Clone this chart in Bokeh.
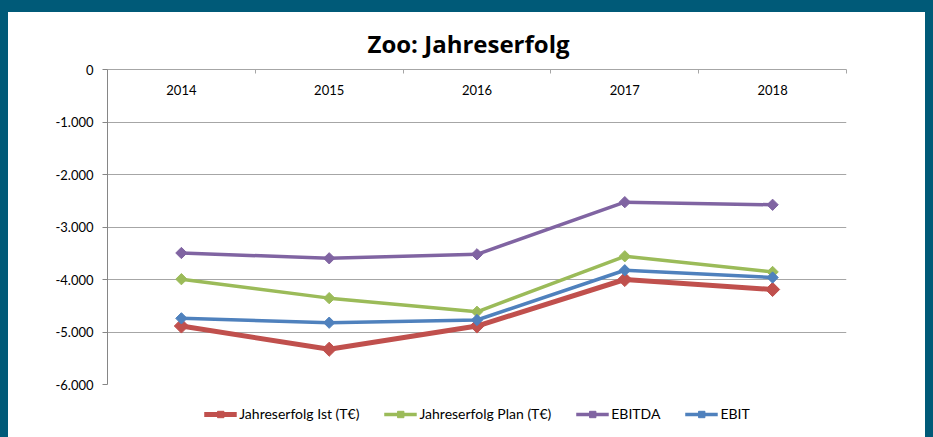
from bokeh.plotting import figure
from bokeh.models import Range1d, FixedTicker, Legend, LegendItem
from bokeh.core.properties import value
from bokeh.embed import file_html
from bokeh.resources import INLINE
import math

years = ["2014", "2015", "2016", "2017", "2018"]
ist = [-4886, -5328, -4886, -4000, -4190]
plan = [-3994, -4355, -4615, -3558, -3856]
ebitda = [-3495, -3596, -3520, -2527, -2577]
ebit = [-4740, -4823, -4772, -3824, -3962]
series_names = ["Jahreserfolg Ist (T€)", "Jahreserfolg Plan (T€)", "EBITDA", "EBIT"]
series_colors = ["#C0504D", "#9BBB59", "#8064A2", "#4F81BD"]
y_ticks = [0, -1000, -2000, -3000, -4000, -5000, -6000]
y_tick_labels = ["0", "-1.000", "-2.000", "-3.000", "-4.000", "-5.000", "-6.000"]

FONT = "Lato"
TEAL = "#005A78"
GRID = "#A6A6A6"

xs = [i + 0.5 for i in range(len(years))]
bounds = list(range(len(years) + 1))

p = figure(frame_width=739, frame_height=315, output_backend="svg", toolbar_location=None,
           x_range=Range1d(0, len(years)), y_range=Range1d(-6000, 0),
           x_axis_location="above",
           min_border_left=99, min_border_right=79, min_border_top=57, min_border_bottom=20,
           background_fill_color="white", border_fill_color="white")
p.outline_line_color = None
p.outline_line_width = 0
p.styles = {"background-color": "#ffffff", "outline": "1px solid #000000"}

p.title.text = "Zoo: Jahreserfolg"
p.title.align = "left"
p.title.offset = 260
p.title.text_font = "Open Sans"
p.title.text_font_size = "24px"
p.title.text_font_style = "bold"
p.title.text_color = "#000000"
p.title.standoff = 19

xa = p.xaxis[0]
xa.ticker = FixedTicker(ticks=bounds)
xa.major_label_overrides = {b: "" for b in bounds}
xa.major_tick_in = 4
xa.major_tick_out = 0
xa.minor_tick_line_color = None
xa.axis_line_color = GRID
xa.major_tick_line_color = GRID

ya = p.yaxis[0]
ya.ticker = FixedTicker(ticks=y_ticks)
ya.major_label_overrides = {t: l for t, l in zip(y_ticks, y_tick_labels)}
ya.major_tick_in = 0
ya.major_tick_out = 5
ya.minor_tick_line_color = None
ya.axis_line_color = "#868686"
ya.major_tick_line_color = "#868686"
ya.major_label_text_font = FONT
ya.major_label_text_font_size = "13px"
ya.major_label_text_color = "#000000"
ya.major_label_standoff = 9

p.xgrid.visible = False
p.ygrid.ticker = FixedTicker(ticks=y_ticks)
p.ygrid.grid_line_color = GRID

p.text(x=xs, y=[0] * len(years), text=years, text_align="center", text_baseline="middle",
       y_offset=20, text_font=value(FONT), text_font_size="13px", text_color="#000000")

items = []
data = [ist, plan, ebitda, ebit]
widths = [5, 3.5, 3.5, 3.5]
sizes = [10, 8, 8, 8]
for name, vals, col, w, s in zip(series_names, data, series_colors, widths, sizes):
    r1 = p.line(xs, vals, line_color=col, line_width=w)
    r2 = p.scatter(xs, vals, marker="square", angle=math.pi / 4, size=s,
                   fill_color=col, line_color=col)
    items.append(LegendItem(label=name, renderers=[r1, r2]))

legend = Legend(items=items, orientation="horizontal", location="top_center",
                label_text_font=FONT, label_text_font_size="14px", label_text_color="#000000",
                glyph_width=33, glyph_height=16, label_height=16, label_standoff=3,
                spacing=24, padding=0, margin=21,
                border_line_color=None, background_fill_alpha=0)
p.add_layout(legend, "below")

style = ("<style>html,body{background:%s;overflow:hidden;}"
         "body{margin:12px 8px 0 8px;}</style>") % TEAL
html = file_html(p, INLINE).replace("</head>", style + "</head>", 1)
open("out.html", "w").write(html)
